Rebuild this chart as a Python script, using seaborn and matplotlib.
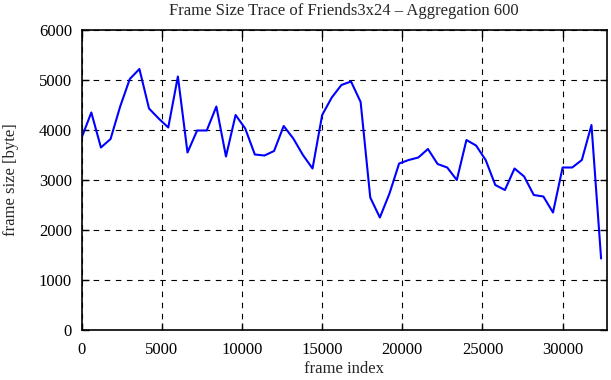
import numpy as np
import pandas as pd
import matplotlib
matplotlib.use("Agg")
import matplotlib.pyplot as plt
import seaborn as sns

# aggregated frame sizes, one value every 600 frames
step = 600
frame_size = [3850, 4350, 3650, 3820, 4470, 5020, 5220, 4430, 4230, 4050,
              5070, 3550, 3990, 3990, 4470, 3470, 4300, 4030, 3510, 3490,
              3580, 4080, 3830, 3500, 3230, 4300, 4650, 4900, 4970, 4560,
              2650, 2250, 2730, 3330, 3400, 3450, 3620, 3320, 3250, 3000,
              3800, 3690, 3400, 2900, 2800, 3230, 3070, 2700, 2670, 2350,
              3250, 3250, 3400, 4100, 1430]
frame_index = [i * step for i in range(len(frame_size))]
x_ticks = [0, 5000, 10000, 15000, 20000, 25000, 30000]
y_ticks = [0, 1000, 2000, 3000, 4000, 5000, 6000]

df = pd.DataFrame({"frame index": frame_index, "frame size [byte]": frame_size})

sns.set_theme(style="white")
plt.rcParams["font.family"] = ["Liberation Serif", "DejaVu Serif"]
plt.rcParams["font.size"] = 12

fig = plt.figure(figsize=(6.11, 3.80), dpi=100)
ax = fig.add_axes([81.7 / 611, 50 / 380, 525 / 611, 300 / 380])

sns.lineplot(data=df, x="frame index", y="frame size [byte]", color="#0000ff",
             linewidth=1.5, ax=ax)

ax.set_xlim(0, 32750)
ax.set_ylim(0, 6000)
ax.set_xticks(x_ticks)
ax.set_yticks(y_ticks)
ax.grid(True, color="black", linestyle=(0, (5, 5)), linewidth=0.8)
for s in ax.spines.values():
    s.set_color("black")
    s.set_linewidth(1.2)
ax.tick_params(direction="in", length=5, width=1, top=True, right=True,
               bottom=True, left=True, labelsize=12, colors="black")
ax.tick_params(axis="y", pad=7)
ax.tick_params(axis="x", pad=9)
ax.set_xlabel("frame index", fontsize=12, labelpad=2)
ax.set_ylabel("frame size [byte]", fontsize=12, labelpad=14)
ax.set_title("Frame Size Trace of Friends3x24 \u2013 Aggregation 600", fontsize=12, pad=11)

fig.savefig("out.png", dpi=100)
